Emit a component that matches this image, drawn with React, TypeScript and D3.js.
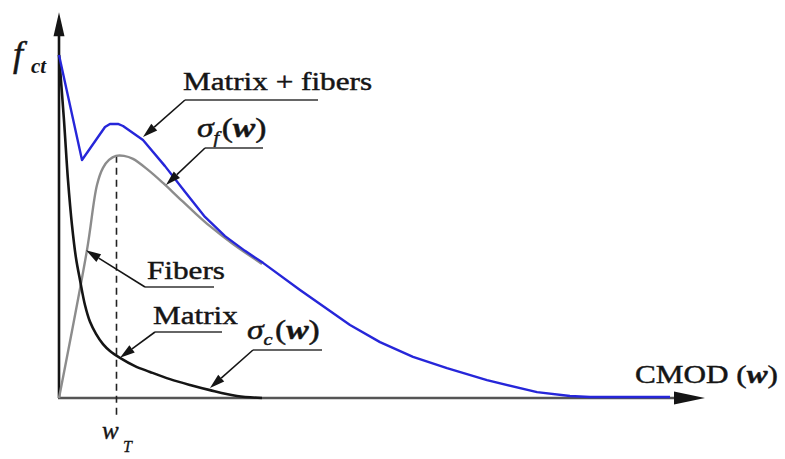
import React from 'react';
import * as d3 from 'd3';

const W = 785;
const H = 459;

// Crack opening w (relative units, 0–100) and stress σ / f_ct
const compositeW = [0, 3.56, 7.12, 7.89, 9.13, 9.91, 13.0, 16.41, 19.5, 22.6, 25.7, 28.79, 31.58, 37.31, 45.05, 49.69, 54.8, 60.06, 66.25, 74.0, 79.1, 82.2, 94.58];
const compositeS = [1.0, 0.694, 0.79, 0.799, 0.799, 0.793, 0.752, 0.676, 0.601, 0.528, 0.472, 0.429, 0.394, 0.315, 0.213, 0.163, 0.12, 0.087, 0.052, 0.017, 0.006, 0.003, 0.003];

const fiberW = [0, 4.33, 5.88, 6.81, 7.74, 8.82, 10.06, 11.46, 13.78, 16.1, 18.42, 20.74, 23.37, 26.93, 31.42];
const fiberS = [0, 0.431, 0.621, 0.671, 0.694, 0.706, 0.706, 0.697, 0.665, 0.627, 0.586, 0.545, 0.501, 0.449, 0.391];

const matrixW = [0, 0.77, 1.39, 2.01, 2.63, 3.25, 4.02, 4.8, 5.73, 6.81, 7.89, 9.44, 11.76, 14.09, 17.18, 20.28, 23.37, 27.55, 31.42];
const matrixS = [1.0, 0.81, 0.636, 0.504, 0.408, 0.344, 0.271, 0.222, 0.187, 0.157, 0.137, 0.117, 0.093, 0.076, 0.055, 0.038, 0.023, 0.006, 0];

// crack opening at the peak of the fibre bridging curve
const wT = 8.9;

const FONT = "'Liberation Serif', 'Times New Roman', serif";
const INK = '#151515';

type Pt = [number, number];

function zip(ws: number[], ss: number[]): Pt[] {
  return ws.map((w, i) => [w, ss[i]] as Pt);
}

function Arrow({ from, to, len = 15, hw = 4.5 }: { from: Pt; to: Pt; len?: number; hw?: number }) {
  const [x1, y1] = from;
  const [x2, y2] = to;
  const a = Math.atan2(y2 - y1, x2 - x1);
  const bx = x2 - len * Math.cos(a);
  const by = y2 - len * Math.sin(a);
  const px = -Math.sin(a) * hw;
  const py = Math.cos(a) * hw;
  return (
    <g>
      <line x1={x1} y1={y1} x2={bx} y2={by} stroke={INK} strokeWidth={1.6} />
      <polygon points={`${x2},${y2} ${bx + px},${by + py} ${bx - px},${by - py}`} fill={INK} />
    </g>
  );
}

function Label({ x, y, children, size = 26 }: { x: number; y: number; children: React.ReactNode; size?: number }) {
  return (
    <text
      transform={`translate(${x},${y}) scale(1.2,1)`}
      fontFamily={FONT}
      fontSize={size}
      fill={INK}
      stroke={INK}
      strokeWidth={0.45}
    >
      {children}
    </text>
  );
}

export default function App() {
  const x = d3.scaleLinear().domain([0, 100]).range([59, 705]);
  const y = d3.scaleLinear().domain([0, 1]).range([398, 55]);

  const line = d3
    .line<Pt>()
    .x((d) => x(d[0]))
    .y((d) => y(d[1]));
  const smooth = d3
    .line<Pt>()
    .x((d) => x(d[0]))
    .y((d) => y(d[1]))
    .curve(d3.curveCatmullRom.alpha(0.5));

  const x0 = x(0);
  const y0 = y(0);
  const xEnd = x(100);
  const yTop = y(1.125);

  const tip = (w: number, s: number): Pt => [x(w), y(s)];

  return (
    <svg width={W} height={H} style={{ position: 'absolute', left: 0, top: 0, background: '#fff' }}>
      <rect width={W} height={H} fill="#fff" />

      {/* axes */}
      <line x1={x0} y1={y0} x2={x0} y2={yTop + 20} stroke={INK} strokeWidth={2.6} />
      <polygon points={`${x0},${yTop} ${x0 - 5.5},${yTop + 24} ${x0 + 5.5},${yTop + 24}`} fill={INK} />
      <line x1={x0 - 1} y1={y0} x2={xEnd - 26} y2={y0} stroke="#555" strokeWidth={2.4} />
      <polygon points={`${xEnd},${y0} ${xEnd - 31},${y0 - 6.5} ${xEnd - 31},${y0 + 6.5}`} fill={INK} />

      {/* w_T marker */}
      <line x1={x(wT)} y1={y(0.706)} x2={x(wT)} y2={417} stroke="#222" strokeWidth={1.6} strokeDasharray="7,5" />

      {/* curves */}
      <path d={smooth(zip(fiberW, fiberS)) || ''} fill="none" stroke="#8c8c8c" strokeWidth={2.4} />
      <path d={smooth(zip(matrixW, matrixS)) || ''} fill="none" stroke={INK} strokeWidth={2.6} />
      <path d={line(zip(compositeW, compositeS)) || ''} fill="none" stroke="#2626d9" strokeWidth={2.4} strokeLinejoin="round" />

      {/* f_ct */}
      <text x={13} y={66} fontFamily={FONT} fontSize={36} fontStyle="italic" fill={INK} stroke={INK} strokeWidth={0.5}>
        f
      </text>
      <text x={31} y={73} fontFamily={FONT} fontSize={21} fontStyle="italic" fontWeight="bold" fill={INK}>
        ct
      </text>

      {/* Matrix + fibers */}
      <Label x={183} y={90}>Matrix + fibers</Label>
      <line x1={185} y1={100} x2={318} y2={100} stroke="#333" strokeWidth={1.6} />
      <Arrow from={[185, 100]} to={tip(13.0, 0.761)} />

      {/* sigma_f(w) */}
      <Label x={197} y={137} size={28}>
        <tspan fontStyle="italic">σ</tspan>
        <tspan fontStyle="italic" fontSize={17} dy={6}>f</tspan>
        <tspan dy={-6} dx={2}>(</tspan>
        <tspan fontStyle="italic" fontWeight="bold">w</tspan>
        <tspan>)</tspan>
      </Label>
      <line x1={205} y1={148} x2={263} y2={148} stroke="#333" strokeWidth={1.6} />
      <Arrow from={[205, 148]} to={tip(16.56, 0.621)} />

      {/* Fibers */}
      <Label x={147} y={279}>Fibers</Label>
      <line x1={145} y1={287} x2={214} y2={287} stroke="#333" strokeWidth={1.6} />
      <Arrow from={[145, 287]} to={tip(4.18, 0.431)} />

      {/* Matrix */}
      <Label x={153} y={324}>Matrix</Label>
      <line x1={155} y1={332} x2={222} y2={332} stroke="#333" strokeWidth={1.6} />
      <Arrow from={[155, 332]} to={tip(9.44, 0.117)} />

      {/* sigma_c(w) */}
      <Label x={247} y={339} size={28}>
        <tspan fontStyle="italic">σ</tspan>
        <tspan fontStyle="italic" fontSize={17} dy={6}>c</tspan>
        <tspan dy={-6} dx={2}>(</tspan>
        <tspan fontStyle="italic" fontWeight="bold">w</tspan>
        <tspan>)</tspan>
      </Label>
      <line x1={253} y1={350} x2={322} y2={350} stroke="#333" strokeWidth={1.6} />
      <Arrow from={[253, 350]} to={tip(23.37, 0.029)} />

      {/* x-axis title */}
      <Label x={635} y={383}>
        <tspan>CMOD (</tspan>
        <tspan fontStyle="italic" fontWeight="bold">w</tspan>
        <tspan>)</tspan>
      </Label>

      {/* w_T */}
      <text x={102} y={439} fontFamily={FONT} fontSize={25} fontStyle="italic" fill={INK} stroke={INK} strokeWidth={0.4}>
        w
      </text>
      <text x={123} y={452} fontFamily={FONT} fontSize={16} fontStyle="italic" fill={INK} stroke={INK} strokeWidth={0.3}>
        T
      </text>
    </svg>
  );
}
